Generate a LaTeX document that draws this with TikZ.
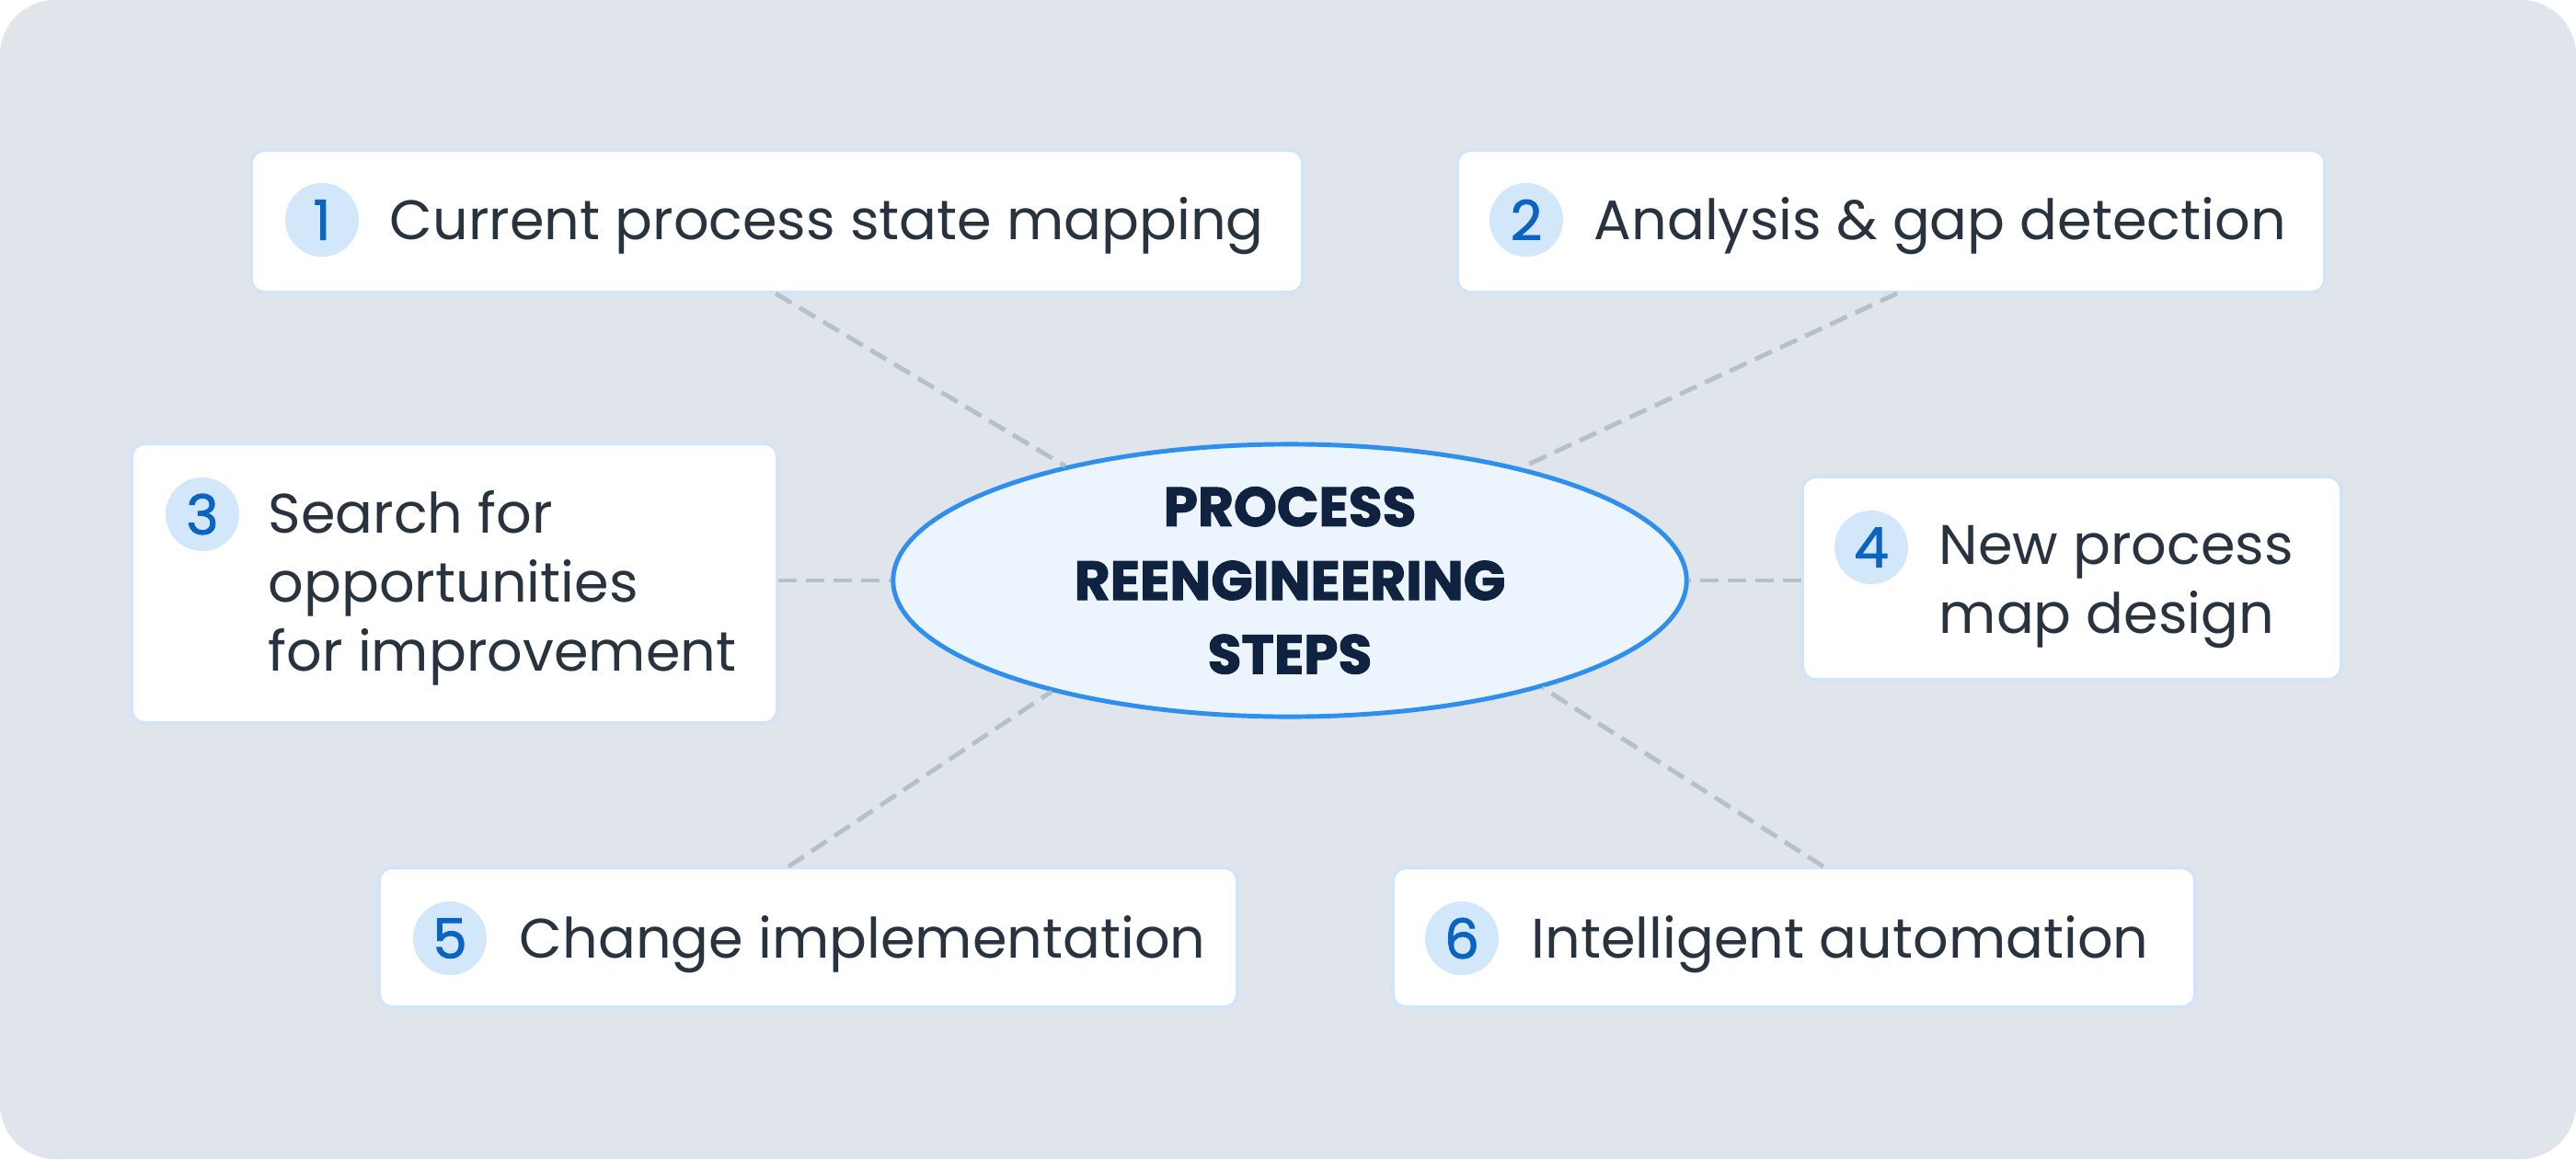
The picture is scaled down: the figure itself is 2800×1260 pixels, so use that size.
\documentclass[tikz,border=0pt]{standalone}
\usepackage{fontspec}
\setmainfont{Poppins}
\newfontfamily\numfont{Poppins}[FakeBold=1.5]
\newfontfamily\titlefont{Poppins}[BoldFeatures={FakeBold=1.8}]
\usetikzlibrary{shapes.geometric}
\definecolor{bgc}{HTML}{E0E5EC}
\definecolor{cardline}{HTML}{D2E5F8}
\definecolor{badgefill}{HTML}{D3E7FB}
\definecolor{numc}{HTML}{0B63C4}
\definecolor{txtc}{HTML}{29333F}
\definecolor{ellfill}{HTML}{ECF5FE}
\definecolor{ellline}{HTML}{2F8FEE}
\definecolor{titlec}{HTML}{0F2340}
\definecolor{dashc}{HTML}{B4C0CA}
\begin{document}
\begin{tikzpicture}[x=0.01cm,y=-0.01cm,
  card/.style={draw=cardline, line width=1.2pt, fill=white, rounded corners=0.15cm, inner sep=0, rectangle},
  badge/.style={circle, fill=badgefill, minimum size=0.8cm, inner sep=0, text=numc, font=\numfont\fontsize{17}{20}\selectfont},
  lbl/.style={text=txtc, align=left, inner sep=0, font=\fontsize{17.2}{21.3}\selectfont},
  conn/.style={draw=dashc, line width=1.4pt, dash pattern=on 0.2cm off 0.1cm},
  hub/.style={ellipse, draw=ellline, line width=1.4pt, fill=ellfill, minimum width=8.62cm, minimum height=2.96cm, inner sep=0, align=center, text=titlec, font=\titlefont\fontsize{17}{22.8}\selectfont\bfseries}
]
\useasboundingbox (0,0) rectangle (2800,1260);
\fill[white] (0,0) rectangle (2800,1260);
\fill[bgc, rounded corners=0.6cm] (0,0) rectangle (2800,1260);

% cards
\node[card, minimum width=11.43cm, minimum height=1.55cm] (b1) at (844.5,240.5) {};
\node[card, minimum width=9.43cm, minimum height=1.55cm] (b2) at (2055.5,240.5) {};
\node[card, minimum width=7.02cm, minimum height=3.04cm] (b3) at (494,634) {};
\node[card, minimum width=5.86cm, minimum height=2.21cm] (b4) at (2252,628.5) {};
\node[card, minimum width=9.33cm, minimum height=1.52cm] (b5) at (878.5,1019) {};
\node[card, minimum width=8.72cm, minimum height=1.52cm] (b6) at (1950,1019) {};

% hub
\node[hub] (e) at (1402,631) {PROCESS\\REENGINEERING\\STEPS};

% badges
\node[badge] (n1) at (350,239) {1};
\node[badge] (n2) at (1659,239) {2};
\node[badge] (n3) at (220,559) {3};
\node[badge] (n4) at (2034,595) {4};
\node[badge] (n5) at (489,1020) {5};
\node[badge] (n6) at (1589,1020) {6};

% labels
\node[lbl, anchor=base west] (t1) at (423,260) {Current process state mapping};
\node[lbl, anchor=base west] (t2) at (1732,260) {Analysis \& gap detection};
\node[lbl, anchor=west] (t3) at (291,639) {Search for\\opportunities\\for improvement};
\node[lbl, anchor=west] (t4) at (2107,638) {New process\\map design};
\node[lbl, anchor=base west] (t5) at (564,1041) {Change implementation};
\node[lbl, anchor=base west] (t6) at (1664,1041) {Intelligent automation};

% connectors
\coordinate (c1) at (843,319);
\coordinate (c2) at (2062,319);
\coordinate (c3) at (846,631);
\coordinate (c4) at (1958,631);
\coordinate (c5) at (857,942);
\coordinate (c6) at (1982,942);
\draw[conn] (c1) -- (e.153);
\draw[conn] (c2) -- (e.26.7);
\draw[conn] (c3) -- (e.180);
\draw[conn] (c4) -- (e.0);
\draw[conn] (c5) -- (e.205.8);
\draw[conn] (c6) -- (e.337.9);
\end{tikzpicture}
\end{document}
